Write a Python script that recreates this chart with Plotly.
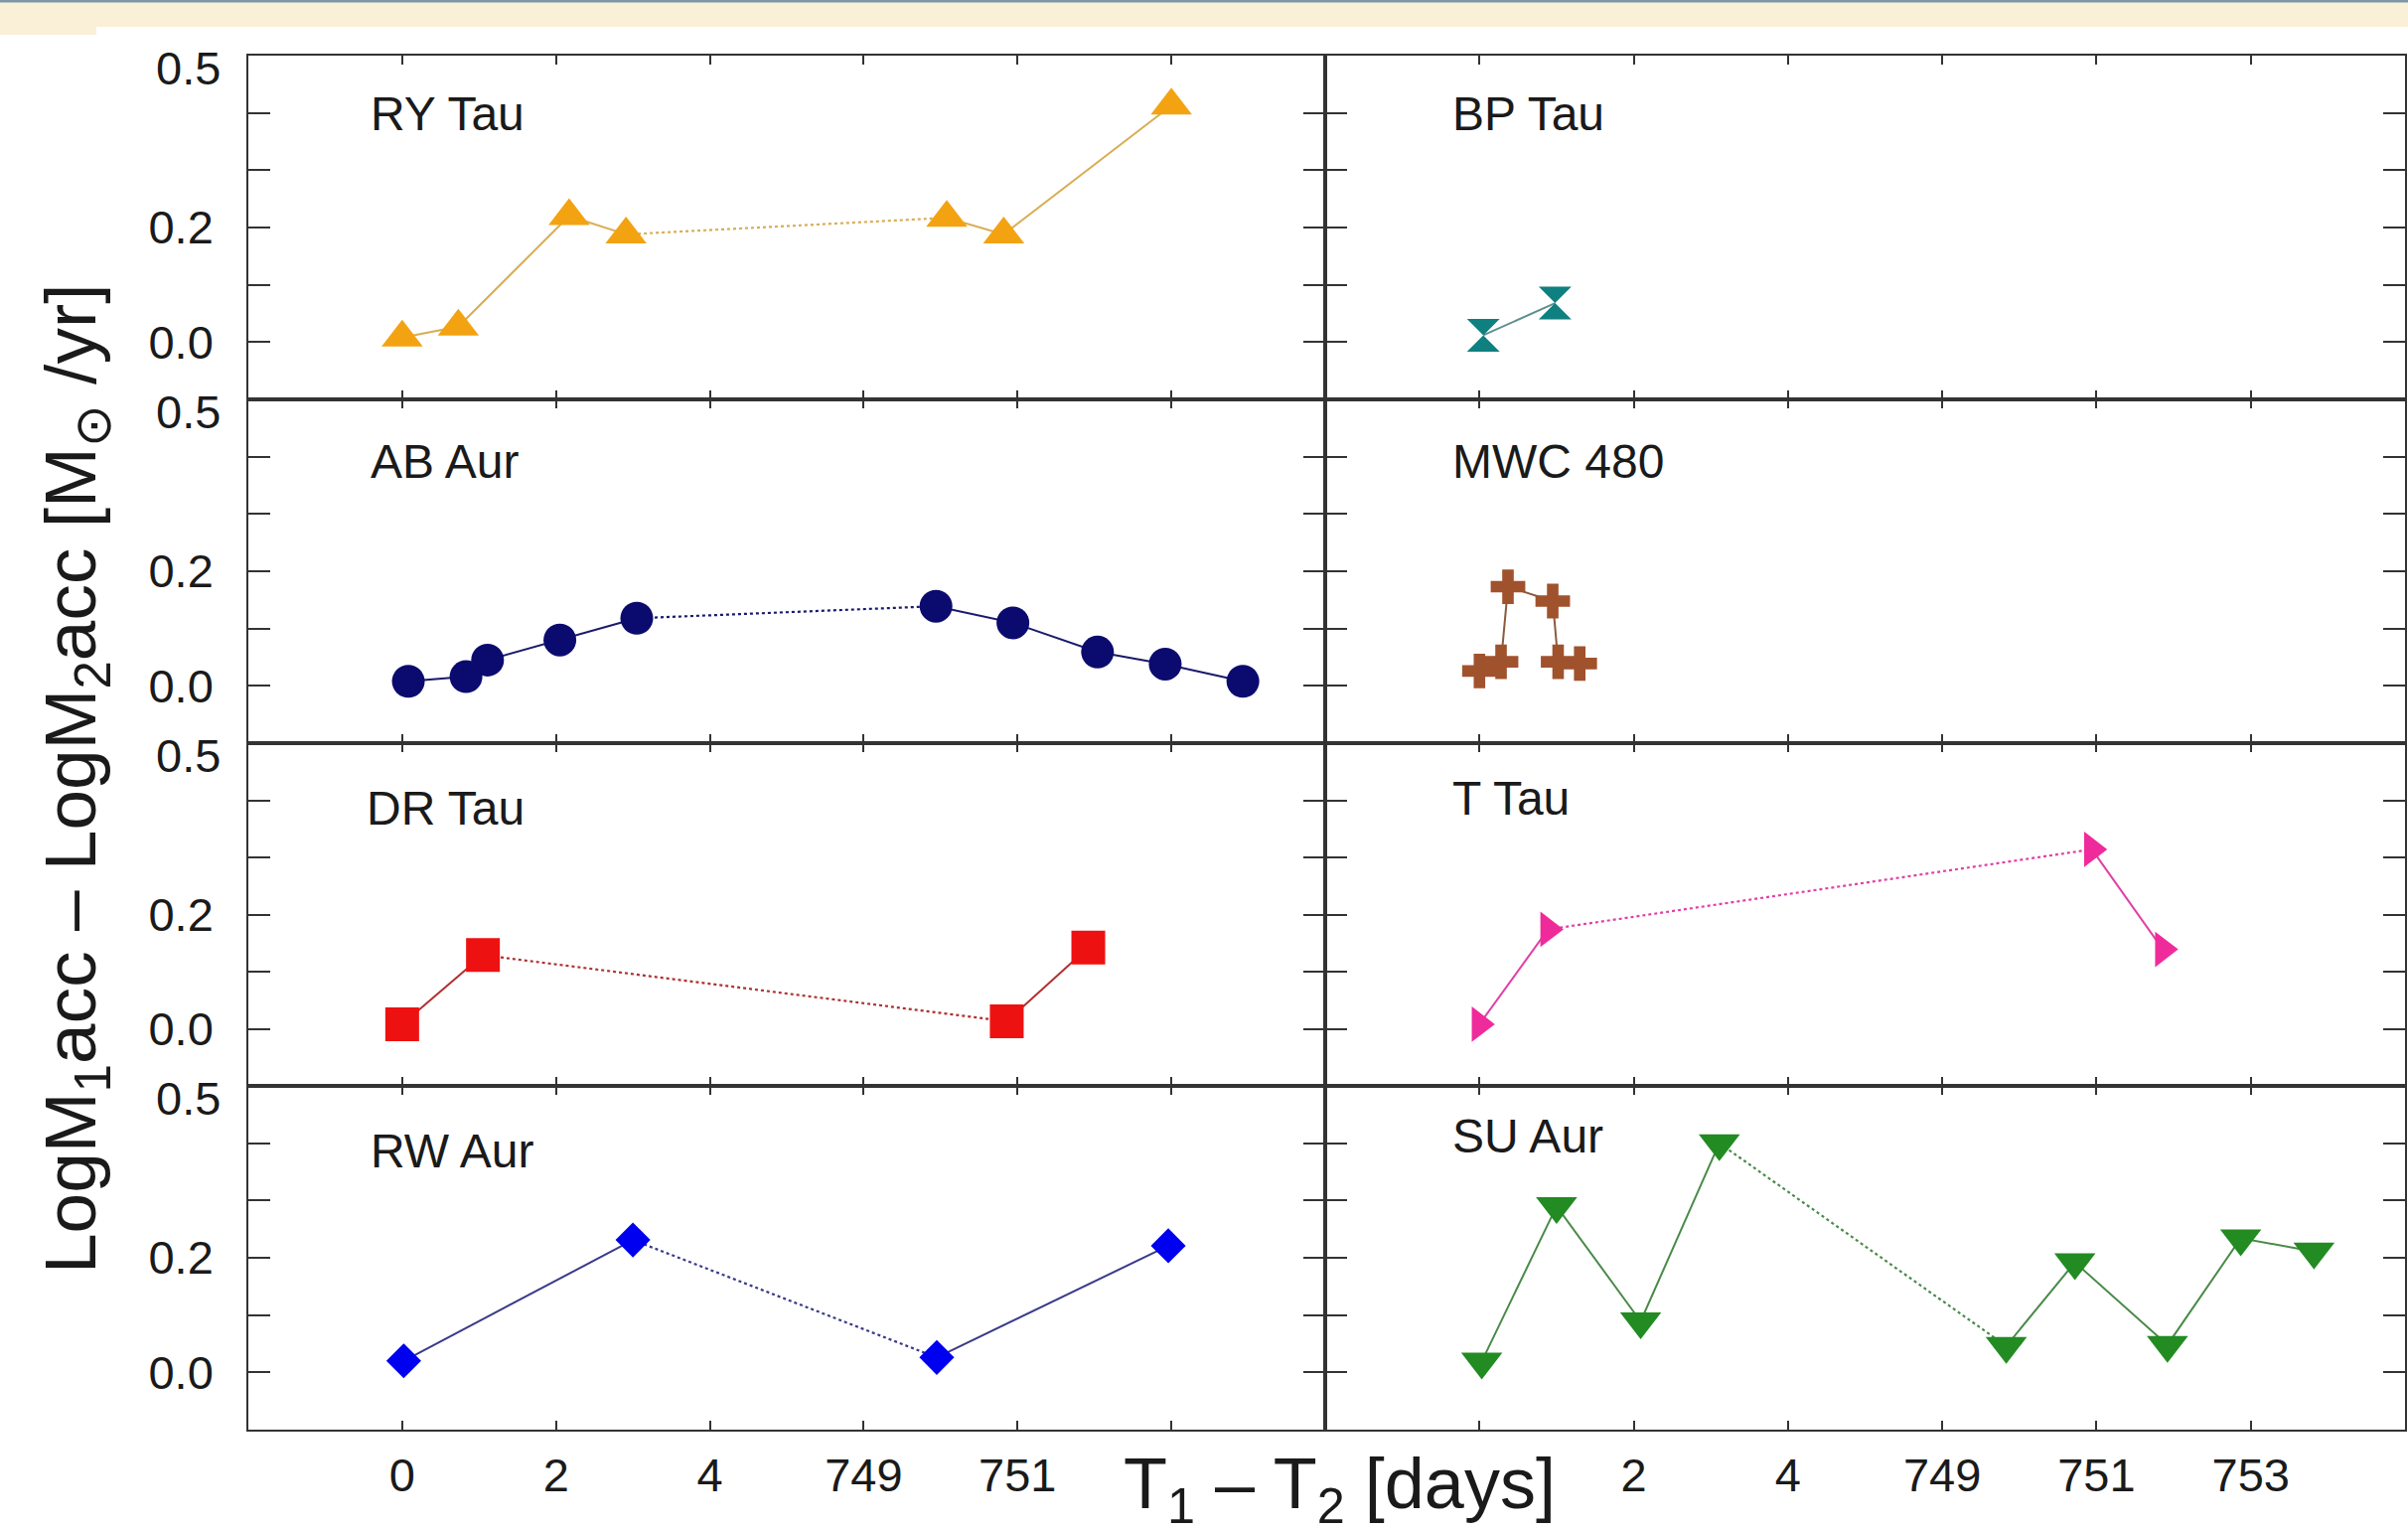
import plotly.graph_objects as go
from plotly.subplots import make_subplots

# ---------------- data (T1 - T2 in days, LogM1acc - LogM2acc) ----------------
ry_tau_t = [0.0, 0.73, 2.17, 2.91, 750.08, 750.82, 753.0]
ry_tau_v = [0.008, 0.027, 0.220, 0.188, 0.217, 0.188, 0.413]

bp_tau_t = [0.05, 0.98]
bp_tau_v = [0.012, 0.068]

ab_aur_t = [0.08, 0.83, 1.11, 2.05, 3.05, 749.94, 750.94, 752.04, 752.92, 753.93]
ab_aur_v = [0.008, 0.016, 0.045, 0.080, 0.118, 0.139, 0.110, 0.059, 0.038, 0.008]

mwc480_t = [0.0, 0.28, 0.37, 0.95, 1.02, 1.30]
mwc480_v = [0.026, 0.042, 0.173, 0.148, 0.042, 0.039]

dr_tau_t = [0.0, 1.05, 750.86, 751.92]
dr_tau_v = [0.008, 0.129, 0.013, 0.142]

t_tau_t = [0.0, 0.89, 750.94, 751.86]
t_tau_v = [0.008, 0.174, 0.314, 0.139]

rw_aur_t = [0.02, 3.0, 749.95, 752.96]
rw_aur_v = [0.020, 0.231, 0.026, 0.221]

su_aur_t = [0.03, 1.0, 2.09, 3.11, 749.83, 750.72, 751.92, 752.87, 753.82]
su_aur_v = [0.019, 0.290, 0.089, 0.400, 0.046, 0.192, 0.048, 0.234, 0.211]

x_tick_days = [0, 2, 4, 749, 751, 753]
x_label_left = [0, 2, 4, 749, 751]        # 753 hidden under the axis title
x_label_right = [2, 4, 749, 751, 753]      # 0 hidden under the axis title
y_major = [0.0, 0.2]
y_minor = [0.1, 0.3, 0.4]

# broken x axis: the gap between the two observing seasons is removed
GAP_START = 100
GAP = 743


def to_axis(days):
    return [d if d < GAP_START else d - GAP for d in days]


stars = [
    # name, t, v, row, col, symbol, marker colour, line colour, size
    ("RY Tau", ry_tau_t, ry_tau_v, 1, 1, "triangle-up", "#f3a312", "#d9ad55", 36),
    ("BP Tau", bp_tau_t, bp_tau_v, 1, 2, "hourglass", "#0e8080", "#5d8f8f", 33),
    ("AB Aur", ab_aur_t, ab_aur_v, 2, 1, "circle", "#0b0b6f", "#1a1a6e", 33),
    ("MWC 480", mwc480_t, mwc480_v, 2, 2, "cross", "#a0522d", "#8b5a3c", 29),
    ("DR Tau", dr_tau_t, dr_tau_v, 3, 1, "square", "#ee1111", "#b03030", 34),
    ("T Tau", t_tau_t, t_tau_v, 3, 2, "triangle-right", "#ef2b9b", "#e040a8", 31),
    ("RW Aur", rw_aur_t, rw_aur_v, 4, 1, "diamond", "#0000f0", "#3a3a8a", 27),
    ("SU Aur", su_aur_t, su_aur_v, 4, 2, "triangle-down", "#228b22", "#4a8a4a", 36),
]

# label placement inside each panel (fraction of panel)
label_pos = {
    "RY Tau": (0.112, 0.83), "BP Tau": (0.116, 0.83),
    "AB Aur": (0.112, 0.82), "MWC 480": (0.116, 0.82),
    "DR Tau": (0.108, 0.81), "T Tau": (0.116, 0.84),
    "RW Aur": (0.112, 0.81), "SU Aur": (0.116, 0.855),
}

W, H = 2424, 1539
x_left = (250 / W, 1334 / W)
x_right = (1334 / W, 2421 / W)
row_edges = [56, 402, 748, 1093, 1439]

FONT = "Liberation Sans, Arial, sans-serif"
AXC = "#333333"
TXT = "#1a1a1a"

fig = make_subplots(rows=4, cols=2, horizontal_spacing=0, vertical_spacing=0)

for name, t, v, r, c, sym, mc, lc, sz in stars:
    xa = to_axis(t)
    early = [i for i, d in enumerate(t) if d < GAP_START]
    late = [i for i, d in enumerate(t) if d >= GAP_START]
    for grp in (early, late):
        if len(grp) > 1:
            fig.add_trace(go.Scatter(x=[xa[i] for i in grp], y=[v[i] for i in grp],
                                     mode="lines", line=dict(color=lc, width=2),
                                     hoverinfo="skip", showlegend=False), row=r, col=c)
    if early and late:
        i0, i1 = early[-1], late[0]
        fig.add_trace(go.Scatter(x=[xa[i0], xa[i1]], y=[v[i0], v[i1]],
                                 mode="lines", line=dict(color=lc, width=2.2, dash="dot"),
                                 hoverinfo="skip", showlegend=False), row=r, col=c)
    fig.add_trace(go.Scatter(x=xa, y=v, mode="markers", name=name,
                             marker=dict(symbol=sym, size=sz, color=mc, line=dict(width=0)),
                             showlegend=False), row=r, col=c)

for r in range(1, 5):
    ydom = (1 - row_edges[r] / H, 1 - row_edges[r - 1] / H)
    for c in (1, 2):
        shown = x_label_left if c == 1 else x_label_right
        hidden = [d for d in x_tick_days if d not in shown]
        fig.update_xaxes(range=[-2, 12], domain=x_left if c == 1 else x_right,
                         tickvals=to_axis(shown), ticktext=[str(d) for d in shown],
                         minor=dict(tickvals=to_axis(hidden), ticks="inside", ticklen=9,
                                    tickwidth=2, tickcolor=AXC, showgrid=False),
                         showticklabels=(r == 4), ticks="inside", ticklen=9,
                         tickwidth=2, tickcolor=AXC, showline=True, linecolor=AXC,
                         linewidth=1.6, mirror="ticks", showgrid=False, zeroline=False,
                         tickfont=dict(family=FONT, size=47, color=TXT),
                         ticklabelstandoff=4, row=r, col=c)
        fig.update_yaxes(range=[-0.1, 0.5], domain=ydom, tickvals=y_major,
                         ticktext=["%.1f" % val for val in y_major],
                         minor=dict(tickvals=y_minor, ticks="inside", ticklen=22,
                                    tickwidth=2, tickcolor=AXC, showgrid=False),
                         showticklabels=(c == 1),
                         ticks="inside", ticklen=22, tickwidth=2, tickcolor=AXC,
                         showline=True, linecolor=AXC, linewidth=1.6, mirror="ticks",
                         showgrid=False, zeroline=False,
                         tickfont=dict(family=FONT, size=47, color=TXT),
                         ticklabelstandoff=24, row=r, col=c)

annotations = []
# panel names
for name, t, v, r, c, *_rest in stars:
    ax_id = (r - 1) * 2 + c
    suffix = "" if ax_id == 1 else str(ax_id)
    px, py = label_pos[name]
    annotations.append(dict(text=name, xref=f"x{suffix} domain", yref=f"y{suffix} domain",
                            x=px, y=py, xanchor="left", yanchor="middle", showarrow=False,
                            font=dict(family=FONT, size=48, color=TXT)))
# "0.5" labels at top of each row
for r in range(1, 5):
    ax_id = (r - 1) * 2 + 1
    suffix = "" if ax_id == 1 else str(ax_id)
    annotations.append(dict(text="0.5", xref="paper", yref=f"y{suffix}", x=250 / W, y=0.5,
                            xanchor="right", yanchor="middle", xshift=-26, yshift=-12,
                            showarrow=False, font=dict(family=FONT, size=47, color=TXT)))
# axis titles
annotations.append(dict(text="T<sub>1</sub> – T<sub>2</sub> [days]", xref="paper", yref="paper",
                        x=1348 / W, y=1 - 1498 / H, xanchor="center", yanchor="middle",
                        showarrow=False, font=dict(family=FONT, size=72, color=TXT)))
annotations.append(dict(text="LogM<sub>1</sub>acc – LogM<sub>2</sub>acc [M<sub>⊙</sub> /yr]",
                        xref="paper", yref="paper", x=76 / W, y=1 - 784 / H, textangle=-90,
                        xanchor="center", yanchor="middle", showarrow=False,
                        font=dict(family=FONT, size=73, color=TXT)))

shapes = [
    dict(type="rect", xref="paper", yref="paper", x0=0, x1=1, y0=1 - 27 / H, y1=1,
         fillcolor="#faf0d7", line=dict(width=0), layer="below"),
    dict(type="rect", xref="paper", yref="paper", x0=0, x1=97 / W, y0=1 - 35 / H, y1=1 - 27 / H,
         fillcolor="#faf0d7", line=dict(width=0), layer="below"),
    dict(type="line", xref="paper", yref="paper", x0=0, x1=1, y0=1 - 1 / H, y1=1 - 1 / H,
         line=dict(color="#7c97a8", width=3)),
]

fig.update_layout(width=W, height=H, margin=dict(l=0, r=0, t=0, b=0),
                  paper_bgcolor="white", plot_bgcolor="white",
                  annotations=annotations, shapes=shapes, showlegend=False)

fig.write_html("out.html", config={"displayModeBar": False},
               post_script="document.body.style.margin='0';document.body.style.overflow='hidden';")
